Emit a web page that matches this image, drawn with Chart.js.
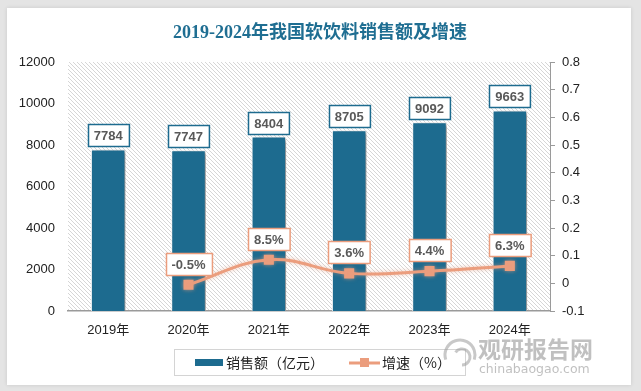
<!DOCTYPE html>
<html>
<head>
<meta charset="utf-8">
<script src="https://cdn.jsdelivr.net/npm/chart.js@4/dist/chart.umd.min.js"></script>
<style>
  html, body { margin: 0; padding: 0; }
  body { width: 641px; height: 391px; background: #e4e4e4; position: relative; overflow: hidden; }
  #card { position: absolute; left: 7px; top: 8px; width: 624px; height: 377px; background: #fff;
          box-shadow: 0 0 4px rgba(0,0,0,0.12); }
</style>
</head>
<body>
<div id="card"><canvas id="chart"></canvas></div>
<script>
const years = ["2019年", "2020年", "2021年", "2022年", "2023年", "2024年"];
const sales = [7784, 7747, 8404, 8705, 9092, 9663];
const growth = [null, -0.005, 0.085, 0.036, 0.044, 0.063];
const growthLabels = [null, "-0.5%", "8.5%", "3.6%", "4.4%", "6.3%"];

const BLUE = "#1d6b8f";
const ORANGE = "#eb9d7d";
const FONT = '"Liberation Sans", "Noto Sans CJK SC", sans-serif';

// hatched plot background
function makeHatch(ctx) {
    const c = document.createElement("canvas");
    c.width = 4; c.height = 4;
    const p = c.getContext("2d");
    p.fillStyle = "#fff";
    p.fillRect(0, 0, 4, 4);
    p.strokeStyle = "#d6d6d6";
    p.lineWidth = 1;
    p.beginPath();
    p.moveTo(-1, -1); p.lineTo(5, 5);
    p.moveTo(-1, 3); p.lineTo(1, 5);
    p.moveTo(3, -1); p.lineTo(5, 1);
    p.stroke();
    return ctx.createPattern(c, "repeat");
}

const hatchBg = {
    id: "hatchBg",
    beforeDraw(chart) {
        const { ctx, chartArea: a } = chart;
        ctx.save();
        ctx.fillStyle = makeHatch(ctx);
        ctx.fillRect(a.left, a.top, a.right - a.left, a.bottom - a.top);
        ctx.restore();
    }
};

const shadows = {
    id: "shadows",
    beforeDatasetDraw(chart, args) {
        const ctx = chart.ctx;
        ctx.save();
        if (args.index === 0) {
            ctx.shadowColor = "rgba(0,0,0,0.45)";
            ctx.shadowBlur = 4;
            ctx.shadowOffsetX = 3;
            ctx.shadowOffsetY = 2;
        } else {
            ctx.shadowColor = "rgba(235,157,125,0.6)";
            ctx.shadowBlur = 4;
        }
    },
    afterDatasetDraw(chart) {
        chart.ctx.restore();
    }
};

function labelBox(ctx, text, cx, bottom, border) {
    ctx.font = "bold 13px " + FONT;
    const w = ctx.measureText(text).width + 12;
    const h = 22;
    const x = Math.round(cx - w / 2) + 0.5;
    const y = Math.round(bottom - h) + 0.5;
    ctx.fillStyle = "#fff";
    ctx.fillRect(x, y, w, h);
    ctx.strokeStyle = border;
    ctx.lineWidth = 1.5;
    ctx.strokeRect(x, y, w, h);
    ctx.fillStyle = "#595959";
    ctx.textAlign = "center";
    ctx.textBaseline = "middle";
    ctx.fillText(text, cx, y + h / 2 + 1);
}

const extras = {
    id: "extras",
    afterDatasetsDraw(chart) {
        const ctx = chart.ctx;
        ctx.save();
        chart.getDatasetMeta(0).data.forEach((bar, i) => {
            labelBox(ctx, String(sales[i]), bar.x, bar.y - 3, BLUE);
        });
        chart.getDatasetMeta(1).data.forEach((pt, i) => {
            if (growth[i] === null) return;
            labelBox(ctx, growthLabels[i], pt.x, pt.y - 10, ORANGE);
        });
        ctx.restore();
    },
    afterDraw(chart) {
        const ctx = chart.ctx;
        ctx.save();
        // title
        ctx.fillStyle = "#1f6e92";
        ctx.font = 'bold 18px "Liberation Serif", "Noto Sans CJK SC", serif';
        ctx.textAlign = "center";
        ctx.textBaseline = "middle";
        ctx.fillText("2019-2024年我国软饮料销售额及增速", 313, 25);

        // legend
        ctx.strokeStyle = "#d4d4d4";
        ctx.lineWidth = 1;
        ctx.strokeRect(167.5, 341.5, 291, 26);
        ctx.fillStyle = BLUE;
        ctx.fillRect(188, 351, 28, 7);
        ctx.fillStyle = "#222";
        ctx.font = '14px "Noto Sans CJK SC", sans-serif';
        ctx.textAlign = "left";
        ctx.fillText("销售额（亿元）", 219, 355);
        ctx.strokeStyle = ORANGE;
        ctx.lineWidth = 3;
        ctx.beginPath();
        ctx.moveTo(342, 355); ctx.lineTo(373, 355);
        ctx.stroke();
        ctx.fillStyle = ORANGE;
        ctx.fillRect(353, 350, 9, 9);
        ctx.fillStyle = "#222";
        ctx.fillText("增速（%）", 375, 355);

        // watermark
        ctx.globalAlpha = 0.55;
        ctx.strokeStyle = "#9a9a9a";
        ctx.lineWidth = 3;
        ctx.beginPath();
        ctx.arc(453, 347, 15, Math.PI * 0.9, Math.PI * 2.1);
        ctx.stroke();
        ctx.beginPath();
        ctx.arc(455, 349, 8, Math.PI * 1.2, Math.PI * 2.5);
        ctx.stroke();
        ctx.fillStyle = "#8c8c8c";
        ctx.font = 'bold 23px "Noto Sans CJK SC", sans-serif';
        ctx.fillText("观研报告网", 471, 341);
        ctx.font = '12.5px "DejaVu Sans", sans-serif';
        ctx.fillText("chinabaogao.com", 472, 362);
        ctx.restore();
    }
};

new Chart(document.getElementById("chart").getContext("2d"), {
    data: {
        labels: years,
        datasets: [{
            type: "bar",
            label: "销售额（亿元）",
            data: sales,
            yAxisID: "y",
            backgroundColor: BLUE,
            borderColor: "#fff",
            borderWidth: 1,
            barPercentage: 0.43,
            categoryPercentage: 1,
            order: 1
        }, {
            type: "line",
            label: "增速（%）",
            data: growth,
            yAxisID: "y1",
            borderColor: ORANGE,
            backgroundColor: ORANGE,
            borderWidth: 3,
            tension: 0.4,
            pointStyle: "rect",
            pointRadius: 5,
            pointHoverRadius: 5,
            order: 0
        }]
    },
    options: {
        responsive: true,
        maintainAspectRatio: false,
        animation: false,
        devicePixelRatio: 1,
        layout: { padding: { top: 54, left: 0, right: 0, bottom: 0 } },
        plugins: {
            legend: { display: false },
            title: { display: false },
            tooltip: { enabled: false }
        },
        scales: {
            x: {
                grid: { display: false, drawTicks: false },
                border: { color: "#9a9a9a", width: 1.5 },
                ticks: { color: "#222", font: { size: 13, family: FONT }, padding: 12 },
                afterFit: s => { s.height = 74; }
            },
            y: {
                position: "left",
                min: 0,
                max: 12000,
                ticks: {
                    stepSize: 2000,
                    color: "#222",
                    font: { size: 13, family: FONT },
                    padding: 13,
                    callback: v => String(v)
                },
                grid: { display: false, drawTicks: false },
                border: { display: false },
                afterFit: s => { s.width = 61; }
            },
            y1: {
                position: "right",
                min: -0.1,
                max: 0.8,
                ticks: {
                    stepSize: 0.1,
                    color: "#222",
                    font: { size: 13, family: FONT },
                    padding: 7,
                    callback: v => String(Math.round(v * 10) / 10)
                },
                grid: { drawOnChartArea: false, tickLength: 5, color: "#9a9a9a" },
                border: { color: "#9a9a9a" },
                afterFit: s => { s.width = 81; }
            }
        }
    },
    plugins: [hatchBg, shadows, extras]
});
</script>
</body>
</html>
